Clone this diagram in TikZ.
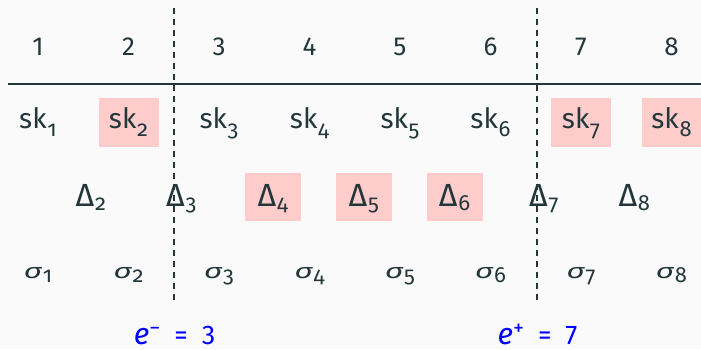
\documentclass[tikz,border=0pt]{standalone}
\usepackage{fontspec}
\usepackage{graphicx}
\setmainfont{Fira Sans}
\newfontfamily\oldnum[Numbers=OldStyle]{Fira Sans}
\usetikzlibrary{positioning}
\definecolor{slideBg}{HTML}{FAFAFA}
\definecolor{inkTeal}{HTML}{23373B}
\definecolor{hitPink}{HTML}{FFCCCC}
\definecolor{epochBlue}{HTML}{0000FF}
\newcommand\lowsub[2][4.2pt]{\kern0.4pt\raisebox{-#1}{\oldnum\fontsize{11}{12}\selectfont#2}}
\newcommand\sig{\scalebox{1.2}[0.8]{\itshape σ}}
\newcommand\epochsym[2]{{\itshape\fontsize{15}{15}\selectfont #1}\raisebox{4.5pt}{\fontsize{11}{11}\selectfont #2}\hspace{7pt}=\hspace{7pt}}

\begin{document}
\begin{tikzpicture}[x=0.5pt, y=-0.5pt,
    tlNum/.style={inner sep=0pt, anchor=base, text=inkTeal, font=\fontsize{13}{15}\selectfont},
    tlKey/.style={inner sep=0pt, text=inkTeal, text height=10.5pt, text depth=5pt, font=\fontsize{14}{16}\selectfont},
    tlKeyHit/.style={tlKey, fill=hitPink, minimum width=30pt, minimum height=24.5pt},
    tlDelta/.style={inner sep=0pt, text=inkTeal, text height=11.5pt, text depth=2.5pt, font=\fontsize{16}{18}\selectfont},
    tlDeltaHit/.style={tlDelta, fill=hitPink, minimum width=28pt, minimum height=24pt},
    tlSig/.style={inner sep=0pt, text=inkTeal, text height=7pt, text depth=3pt, font=\fontsize{13}{15}\selectfont},
    tlEpoch/.style={inner sep=0pt, anchor=base, text=epochBlue, font=\fontsize{13.5}{15}\selectfont},
    tlRule/.style={draw=inkTeal, line width=1pt},
    tlSplit/.style={draw=inkTeal, line width=0.65pt, dash pattern=on 3pt off 2.5pt},
]
\fill[slideBg] (0,0) rectangle (701,349);
\useasboundingbox (0,0) rectangle (701,349);

% header row
\node[tlNum] (num1) at ( 38.0, 55) {1};
\node[tlNum] (num2) at (128.5, 55) {2};
\node[tlNum] (num3) at (219.0, 55) {3};
\node[tlNum] (num4) at (309.5, 55) {4};
\node[tlNum] (num5) at (400.0, 55) {5};
\node[tlNum] (num6) at (490.5, 55) {6};
\node[tlNum] (num7) at (581.0, 55) {7};
\node[tlNum] (num8) at (671.5, 55) {8};
\coordinate (ruleL) at (8, 84);
\coordinate (ruleR) at (701, 84);
\draw[tlRule] (ruleL) -- (ruleR);

% keys
\node[tlKey]    (sk1) at ( 38.0, 122.8) {sk\lowsub{1}};
\node[tlKeyHit] (sk2) at (128.5, 122.8) {sk\lowsub{2}};
\node[tlKey]    (sk3) at (219.0, 122.8) {sk\lowsub{3}};
\node[tlKey]    (sk4) at (309.5, 122.8) {sk\lowsub{4}};
\node[tlKey]    (sk5) at (400.0, 122.8) {sk\lowsub{5}};
\node[tlKey]    (sk6) at (490.5, 122.8) {sk\lowsub{6}};
\node[tlKeyHit] (sk7) at (581.0, 122.8) {sk\lowsub{7}};
\node[tlKeyHit] (sk8) at (671.5, 122.8) {sk\lowsub{8}};

% deltas
\node[tlDelta]    (dl2) at ( 90.8, 197) {Δ\lowsub[2pt]{2}};
\node[tlDelta]    (dl3) at (181.3, 197) {Δ\lowsub[2pt]{3}};
\node[tlDeltaHit] (dl4) at (272.8, 197) {Δ\lowsub[2pt]{4}};
\node[tlDeltaHit] (dl5) at (363.8, 197) {Δ\lowsub[2pt]{5}};
\node[tlDeltaHit] (dl6) at (454.5, 197) {Δ\lowsub[2pt]{6}};
\node[tlDelta]    (dl7) at (543.8, 197) {Δ\lowsub[2pt]{7}};
\node[tlDelta]    (dl8) at (634.3, 197) {Δ\lowsub[2pt]{8}};

% signatures
\node[tlSig] (sg1) at ( 38.0, 274.5) {\sig\lowsub[2pt]{1}};
\node[tlSig] (sg2) at (128.5, 274.5) {\sig\lowsub[2pt]{2}};
\node[tlSig] (sg3) at (219.0, 274.5) {\sig\lowsub[2pt]{3}};
\node[tlSig] (sg4) at (309.5, 274.5) {\sig\lowsub[2pt]{4}};
\node[tlSig] (sg5) at (400.0, 274.5) {\sig\lowsub[2pt]{5}};
\node[tlSig] (sg6) at (490.5, 274.5) {\sig\lowsub[2pt]{6}};
\node[tlSig] (sg7) at (581.0, 274.5) {\sig\lowsub[2pt]{7}};
\node[tlSig] (sg8) at (671.5, 274.5) {\sig\lowsub[2pt]{8}};

% epoch split
\coordinate (cutMinusTop) at (174, 8);
\coordinate (cutMinusBot) at (174, 304);
\coordinate (cutPlusTop) at (537, 8);
\coordinate (cutPlusBot) at (537, 304);
\draw[tlSplit] (cutMinusTop) -- (cutMinusBot);
\draw[tlSplit] (cutPlusTop) -- (cutPlusBot);
\node[tlEpoch] (eMinus) at (174.5, 344) {\epochsym{e}{−}3};
\node[tlEpoch] (ePlus) at (537.5, 344) {\epochsym{e}{+}7};
\end{tikzpicture}
\end{document}
